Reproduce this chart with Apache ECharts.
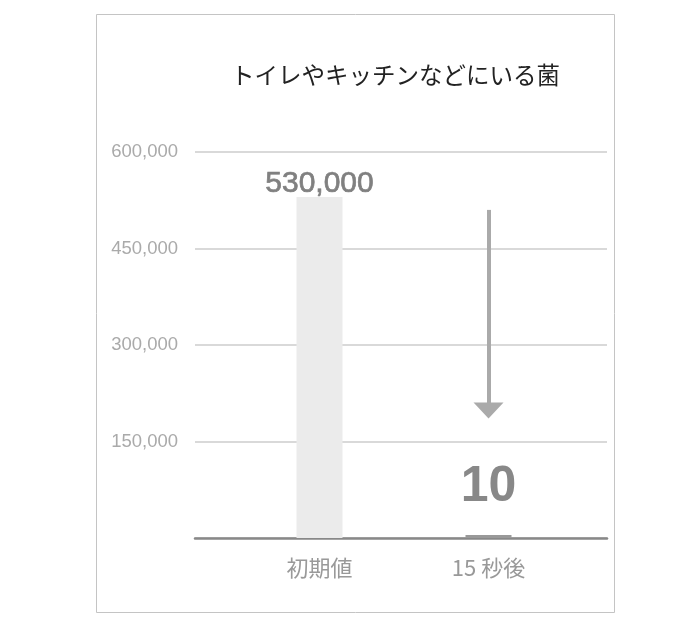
<!DOCTYPE html>
<html>
<head>
<meta charset="utf-8">
<script src="https://cdn.jsdelivr.net/npm/echarts@6/dist/echarts.min.js"></script>
<style>
html,body{margin:0;padding:0;background:#fff;}
#chart{width:700px;height:637px;}
</style>
</head>
<body>
<div id="chart"></div>
<script>
const titleText = 'トイレやキッチンなどにいる菌';
const categories = ['初期値', '15 秒後'];
const values = [530000, 10];
const yTicks = [0, 150000, 300000, 450000, 600000];
const arrowFrom = 510000;
const arrowTo = 198000;

const latin = '"Liberation Sans", Arial, "Noto Sans CJK JP", sans-serif';
const cjk = '"Noto Sans CJK JP", "Liberation Sans", sans-serif';
const fmt = v => v.toLocaleString('en-US');

const chart = echarts.init(document.getElementById('chart'), null, {renderer: 'canvas'});
chart.setOption({
  animation: false,
  backgroundColor: '#fff',
  title: {
    text: titleText,
    left: 226, top: 58,
    textStyle: {fontFamily: cjk, fontSize: 23.5, fontWeight: 'normal', color: '#222'}
  },
  graphic: [{
    type: 'rect', silent: true, z: -1,
    shape: {x: 96.5, y: 14.5, width: 518, height: 598},
    style: {fill: 'none', stroke: '#c4c4c4', lineWidth: 1}
  }],
  grid: [
    {left: 195, right: 93, top: 152, bottom: 99},
    {left: 235, right: 127, top: 152, bottom: 99}
  ],
  xAxis: [
    {gridIndex: 0, type: 'value', min: 0, max: 1,
     axisLine: {show: true, onZero: false, lineStyle: {color: '#888', width: 2.5}},
     axisTick: {show: false}, axisLabel: {show: false}, splitLine: {show: false}},
    {gridIndex: 1, type: 'category', data: categories,
     axisLine: {show: false}, axisTick: {show: false},
     axisLabel: {margin: 19, fontFamily: cjk, fontSize: 22, color: '#999'}}
  ],
  yAxis: [
    {gridIndex: 0, type: 'value', min: yTicks[0], max: yTicks[yTicks.length - 1], interval: yTicks[1] - yTicks[0],
     axisLine: {show: false}, axisTick: {show: false},
     axisLabel: {showMinLabel: false, margin: 17, fontFamily: latin, fontSize: 18.5, color: '#aaa',
                 formatter: v => fmt(v)},
     splitLine: {show: true, lineStyle: {color: '#ccc', width: 1.5}}},
    {gridIndex: 1, type: 'value', min: yTicks[0], max: yTicks[yTicks.length - 1],
     show: false, splitLine: {show: false}}
  ],
  series: [{
    type: 'bar',
    xAxisIndex: 1, yAxisIndex: 1,
    barWidth: 46,
    barMinHeight: 3,
    data: [
      {value: values[0], itemStyle: {color: '#ebebeb'},
       label: {show: true, position: 'top', distance: 0, offset: [0, 2], fontFamily: latin, fontSize: 30, fontWeight: 'normal', color: '#808080',
               textBorderColor: '#808080', textBorderWidth: 0.7,
               formatter: p => fmt(p.value)}},
      {value: values[1], itemStyle: {color: '#999'},
       label: {show: true, position: 'top', distance: 23, fontFamily: latin, fontSize: 50, fontWeight: 'bold', color: '#888',
               formatter: p => fmt(p.value)}}
    ],
    markLine: {
      silent: true,
      symbol: ['none', 'triangle'],
      symbolSize: [30, 16],
      label: {show: false},
      lineStyle: {color: '#aaa', width: 4, type: 'solid'},
      emphasis: {disabled: true},
      data: [[{coord: [categories[1], arrowFrom]}, {coord: [categories[1], arrowTo]}]]
    }
  }]
});
</script>
</body>
</html>
